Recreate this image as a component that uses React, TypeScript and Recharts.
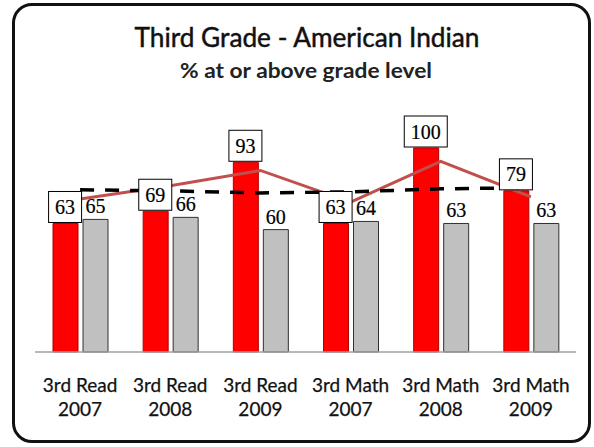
import React from 'react';
import { ComposedChart, Bar, Line, XAxis, YAxis, LabelList } from 'recharts';

const subjects = ['3rd Read', '3rd Read', '3rd Read', '3rd Math', '3rd Math', '3rd Math'];
const years = ['2007', '2008', '2009', '2007', '2008', '2009'];
const americanIndian = [63, 69, 93, 63, 100, 79];
const comparisonGroup = [65, 66, 60, 64, 63, 63];
const trendLine = [75, 81.5, 89, 73.5, 93.5, 76];
const dashedLine = [79.5, 79, 78, 78.5, 80, 80.5];

const data = subjects.map((s, i) => ({
  name: `${s}|${years[i]}`,
  ai: americanIndian[i],
  cmp: comparisonGroup[i],
  trend: trendLine[i],
  dash: dashedLine[i],
}));

const SERIF = '"Liberation Serif", "Times New Roman", serif';
const SANS = 'Lato, "Open Sans", sans-serif';

const BAR_SIZE = 25;
const BAR_GAP = 5;

const Tick = (props: any) => {
  const { x, y, payload } = props;
  const [a, b] = String(payload.value).split('|');
  return (
    <g>
      <text x={x} y={y + 40} textAnchor="middle" fontFamily={SANS} fontSize={19} fill="#111" stroke="#111" strokeWidth={0.25}>{a}</text>
      <text x={x} y={y + 64} textAnchor="middle" fontFamily={SANS} fontSize={19} fill="#111" stroke="#111" strokeWidth={0.25}>{b}</text>
    </g>
  );
};

const RedBox = (props: any) => {
  const { x, y, value } = props;
  if (x == null || y == null) return null;
  const w = String(value).length * 10 + 13;
  const cx = x - (BAR_GAP / 2 + BAR_SIZE / 2);
  const cy = y - 16.5;
  return (
    <g>
      <rect x={cx - w / 2} y={cy - 15.5} width={w} height={31} fill="#fff" stroke="#000" strokeWidth={1} />
      <text x={cx} y={cy + 7} textAnchor="middle" fontFamily={SERIF} fontSize={20} fill="#000" stroke="#000" strokeWidth={0.2}>{value}</text>
    </g>
  );
};

const GrayLabel = (props: any) => {
  const { x, y, width, value } = props;
  return (
    <text x={x + width / 2} y={y - 6} textAnchor="middle" fontFamily={SERIF} fontSize={20} fill="#000" stroke="#000" strokeWidth={0.2}>{value}</text>
  );
};

export default function App() {
  return (
    <div style={{ position: 'fixed', left: 0, top: 0, width: 594, height: 447, background: '#fff', overflow: 'hidden' }}>
      <div style={{ position: 'absolute', left: 12, top: 3, width: 579, height: 440, boxSizing: 'border-box', border: '3px solid #111', borderRadius: 20 }} />
      <svg style={{ position: 'absolute', left: 0, top: 0 }} width={594} height={100}>
        <text x={307} y={47} textAnchor="middle" fontFamily={SANS} fontSize={26} fill="#111" stroke="#111" strokeWidth={0.45} textLength={345} lengthAdjust="spacingAndGlyphs">Third Grade - American Indian</text>
        <text x={306} y={78} textAnchor="middle" fontFamily={SANS} fontSize={21} fontWeight={700} fill="#222" textLength={252} lengthAdjust="spacingAndGlyphs">% at or above grade level</text>
      </svg>
      <div style={{ position: 'absolute', left: 0, top: 0 }}>
        <ComposedChart width={594} height={447} data={data} margin={{ top: 148, right: 18, bottom: 35, left: 35 }} barSize={BAR_SIZE} barGap={BAR_GAP}>
          <XAxis dataKey="name" height={60} tickLine={false} tickSize={0} tickMargin={0} axisLine={{ stroke: '#a0a0a0', strokeWidth: 1.5 }} tick={<Tick />} interval={0} />
          <YAxis hide domain={[0, 100]} />
          <Bar dataKey="ai" fill="#ff0000" stroke="#b00000" strokeWidth={1} isAnimationActive={false} />
          <Bar dataKey="cmp" fill="#c0c0c0" stroke="#303030" strokeWidth={1} isAnimationActive={false}>
            <LabelList dataKey="cmp" content={<GrayLabel />} />
          </Bar>
          <Line dataKey="trend" stroke="#c0504d" strokeWidth={3} dot={false} activeDot={false} isAnimationActive={false} />
          <Line dataKey="dash" stroke="#000" strokeWidth={3.5} strokeDasharray="14 11" dot={false} activeDot={false} isAnimationActive={false} />
          <Line dataKey="ai" stroke="none" dot={false} activeDot={false} isAnimationActive={false}>
            <LabelList dataKey="ai" content={<RedBox />} />
          </Line>
        </ComposedChart>
      </div>
    </div>
  );
}
